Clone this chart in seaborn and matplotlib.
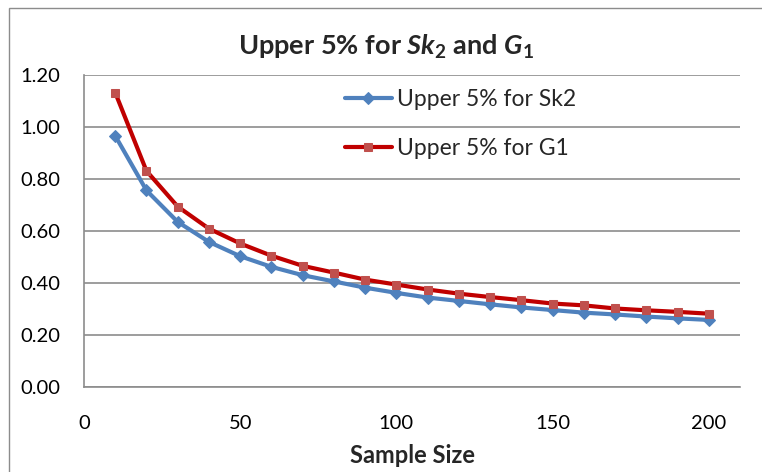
import matplotlib
matplotlib.use("Agg")
import matplotlib.pyplot as plt
import seaborn as sns
import pandas as pd
from matplotlib.patches import Rectangle

sample_size = [10, 20, 30, 40, 50, 60, 70, 80, 90, 100,
               110, 120, 130, 140, 150, 160, 170, 180, 190, 200]
sk2_upper = [0.966, 0.756, 0.635, 0.558, 0.503, 0.462, 0.430, 0.406, 0.382, 0.362,
             0.344, 0.331, 0.318, 0.306, 0.296, 0.286, 0.279, 0.271, 0.264, 0.258]
g1_upper = [1.132, 0.831, 0.694, 0.609, 0.552, 0.505, 0.466, 0.440, 0.413, 0.394,
            0.375, 0.359, 0.346, 0.334, 0.321, 0.314, 0.302, 0.295, 0.289, 0.282]
labels = ["Upper 5% for Sk2", "Upper 5% for G1"]
x_ticks = [0, 50, 100, 150, 200]
y_ticks = [0.0, 0.2, 0.4, 0.6, 0.8, 1.0, 1.2]

sns.set_style("white")
plt.rcParams['font.family'] = ['Lato', 'DejaVu Sans']
plt.rcParams['mathtext.fontset'] = 'custom'
plt.rcParams['mathtext.rm'] = 'Lato:bold'
plt.rcParams['mathtext.it'] = 'Lato:italic:bold'
plt.rcParams['mathtext.bf'] = 'Lato:bold'

W, H = 762, 472
fig = plt.figure(figsize=(W / 100, H / 100), dpi=100)
ax = fig.add_axes([84 / W, 1 - 387 / H, (740 - 84) / W, (387 - 75) / H])

# outer chart border
fig.patches.append(Rectangle((9 / W, -0.1), 1.2, 1 - 8 / H + 0.1,
                             transform=fig.transFigure, fill=False,
                             edgecolor='#8c8c8c', linewidth=1.0))

df1 = pd.DataFrame({"x": sample_size, "y": sk2_upper})
df2 = pd.DataFrame({"x": sample_size, "y": g1_upper})

sns.lineplot(data=df1, x="x", y="y", ax=ax, color='#4F81BD', linewidth=3,
             marker='D', markersize=6, markerfacecolor='#4F81BD',
             markeredgecolor='#4F81BD', label=labels[0], zorder=3)
sns.lineplot(data=df2, x="x", y="y", ax=ax, color='#C00000', linewidth=3,
             marker='s', markersize=5.5, markerfacecolor='#C0504D',
             markeredgecolor='#C0504D', label=labels[1], zorder=4)

ax.set_xlim(0, 210)
ax.set_ylim(0, 1.2)
ax.set_xticks(x_ticks)
ax.set_yticks(y_ticks)
ax.set_yticklabels([f"{v:.2f}" for v in y_ticks])
ax.set_xticklabels([str(v) for v in x_ticks])

ax.grid(axis='y', color='#8c8c8c', linewidth=1.2)
ax.grid(axis='x', visible=False)
ax.set_axisbelow(True)
for s in ['top', 'right']:
    ax.spines[s].set_visible(False)
for s in ['left', 'bottom']:
    ax.spines[s].set_color('#8c8c8c')
    ax.spines[s].set_linewidth(1.2)

ax.tick_params(axis='both', which='both', direction='out', length=7,
               width=1.2, color='#8c8c8c', labelsize=14.5, labelcolor='black')
ax.tick_params(axis='y', pad=10)
ax.tick_params(axis='x', pad=13)

ax.set_ylabel("")
ax.set_xlabel("Sample Size", fontsize=17, fontweight='bold', labelpad=9)

fig.text(0.507, 1 - 47 / H, r"Upper 5% for $Sk_2$ and $G_1$",
         ha='center', va='center', fontsize=19.5, fontweight='bold')

leg = ax.legend(loc='center left', bbox_to_anchor=(345 / W, 1 - 124 / H),
                bbox_transform=fig.transFigure, frameon=False, fontsize=16.5,
                borderpad=0, borderaxespad=0, handlelength=2.05,
                handletextpad=0.22, labelspacing=1.25)

fig.savefig("out.png", dpi=100)
